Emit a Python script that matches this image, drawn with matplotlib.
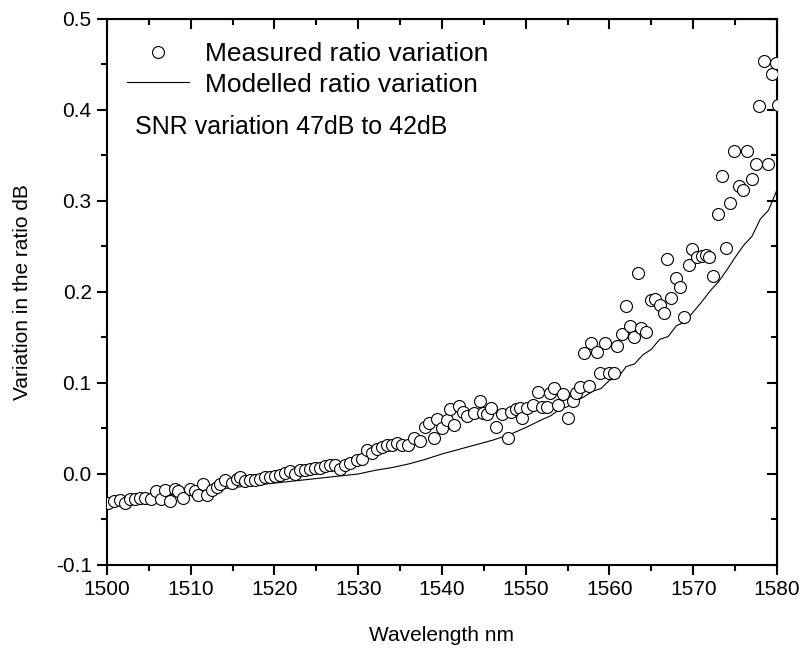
import matplotlib
matplotlib.use("Agg")
import matplotlib.pyplot as plt
from matplotlib.ticker import MultipleLocator, FormatStrFormatter

plt.rcParams['font.family'] = ['Liberation Sans', 'DejaVu Sans']
plt.rcParams['axes.unicode_minus'] = False

# measured ratio variation (wavelength nm, dB)
meas_wl = [1500.1, 1500.8, 1501.6, 1502.1, 1502.7, 1503.3, 1503.9, 1504.5, 1505.3, 1505.9,
           1506.4, 1506.9, 1507.5, 1508.1, 1508.5, 1509.1, 1509.9, 1510.5, 1510.9, 1511.5,
           1512.0, 1512.5, 1513.1, 1513.5, 1514.1, 1514.9, 1515.5, 1515.9, 1516.5, 1517.1,
           1517.7, 1518.3, 1518.9, 1519.5, 1520.1, 1520.7, 1521.3, 1521.9, 1522.4, 1523.0,
           1523.6, 1524.2, 1524.8, 1525.4, 1526.0, 1526.6, 1527.2, 1527.8, 1528.4, 1529.0,
           1529.8, 1530.4, 1531.0, 1531.6, 1532.2, 1532.8, 1533.4, 1534.0, 1534.6, 1535.2,
           1536.0, 1536.6, 1537.4, 1538.0, 1538.4, 1539.0, 1539.4, 1540.0, 1540.6, 1541.0,
           1541.4, 1542.0, 1542.5, 1543.0, 1543.8, 1544.5, 1544.9, 1545.4, 1545.9, 1546.5,
           1547.2, 1547.9, 1548.3, 1548.8, 1549.3, 1549.5, 1550.1, 1550.9, 1551.5, 1551.9,
           1552.5, 1552.9, 1553.4, 1553.9, 1554.5, 1555.0, 1555.6, 1556.0, 1556.5, 1557.0,
           1557.5, 1557.8, 1558.5, 1558.9, 1559.5, 1560.0, 1560.5, 1560.9, 1561.5, 1562.0,
           1562.5, 1562.9, 1563.4, 1563.8, 1564.4, 1565.0, 1565.4, 1566.0, 1566.5, 1566.9,
           1567.4, 1567.9, 1568.4, 1568.9, 1569.5, 1569.9, 1570.4, 1571.0, 1571.5, 1571.9,
           1572.4, 1573.0, 1573.4, 1573.9, 1574.4, 1574.9, 1575.5, 1575.9, 1576.4, 1577.0,
           1577.5, 1577.9, 1578.5, 1578.9, 1579.4, 1579.9, 1580.1]
meas_val = [-0.032, -0.030, -0.029, -0.032, -0.027, -0.028, -0.026, -0.026, -0.028, -0.019,
            -0.028, -0.018, -0.030, -0.016, -0.019, -0.026, -0.017, -0.019, -0.023, -0.011,
            -0.023, -0.018, -0.014, -0.011, -0.007, -0.010, -0.006, -0.003, -0.008, -0.007,
            -0.007, -0.005, -0.003, -0.003, -0.002, -0.001, 0.001, 0.003, 0.000, 0.004,
            0.004, 0.006, 0.007, 0.007, 0.009, 0.010, 0.010, 0.006, 0.010, 0.012,
            0.015, 0.017, 0.026, 0.023, 0.028, 0.030, 0.032, 0.032, 0.034, 0.032,
            0.032, 0.039, 0.036, 0.052, 0.056, 0.040, 0.060, 0.050, 0.059, 0.071,
            0.054, 0.075, 0.068, 0.064, 0.067, 0.080, 0.067, 0.066, 0.073, 0.052,
            0.066, 0.039, 0.068, 0.071, 0.073, 0.062, 0.073, 0.076, 0.090, 0.074,
            0.074, 0.089, 0.094, 0.076, 0.088, 0.062, 0.080, 0.089, 0.096, 0.133,
            0.097, 0.144, 0.134, 0.111, 0.144, 0.111, 0.111, 0.141, 0.154, 0.185,
            0.163, 0.150, 0.221, 0.160, 0.156, 0.191, 0.192, 0.186, 0.177, 0.236,
            0.193, 0.215, 0.206, 0.173, 0.230, 0.247, 0.238, 0.239, 0.241, 0.238,
            0.218, 0.286, 0.327, 0.248, 0.298, 0.355, 0.317, 0.312, 0.355, 0.324,
            0.341, 0.404, 0.454, 0.341, 0.440, 0.452, 0.405]

# modelled ratio variation
model_wl = [1500, 1502, 1504, 1506, 1508, 1510, 1512, 1514, 1516, 1518,
            1520, 1522, 1524, 1526, 1528, 1530, 1532, 1534, 1536, 1538,
            1540, 1542, 1544, 1546, 1548, 1550, 1552, 1553, 1554, 1555,
            1556, 1557, 1558, 1559, 1560, 1561, 1562, 1563, 1564, 1565,
            1566, 1567, 1568, 1569, 1570, 1571, 1572, 1573, 1574, 1575,
            1576, 1577, 1578, 1579, 1580]
model_val = [-0.030, -0.028, -0.026, -0.024, -0.022, -0.020, -0.018, -0.016, -0.014, -0.012,
             -0.010, -0.008, -0.006, -0.004, -0.002, 0.000, 0.004, 0.007, 0.011, 0.016,
             0.022, 0.027, 0.032, 0.037, 0.043, 0.051, 0.060, 0.064, 0.071, 0.074,
             0.080, 0.085, 0.091, 0.094, 0.103, 0.106, 0.118, 0.121, 0.131, 0.137,
             0.148, 0.151, 0.163, 0.167, 0.178, 0.189, 0.201, 0.211, 0.224, 0.238,
             0.251, 0.261, 0.280, 0.290, 0.312]

fig = plt.figure(figsize=(8.08, 6.54), dpi=100)
ax = fig.add_axes([0.1324, 0.1361, 0.8292, 0.8349])

ax.plot(meas_wl, meas_val, 'o', mfc='white', mec='black', ms=8.6, mew=0.8,
        label='Measured ratio variation', clip_on=True, zorder=3)
ax.plot(model_wl, model_val, '-', color='black', lw=0.8,
        label='Modelled ratio variation', zorder=2)

ax.set_xlim(1500, 1580)
ax.set_ylim(-0.1, 0.5)
ax.xaxis.set_major_locator(MultipleLocator(10))
ax.xaxis.set_minor_locator(MultipleLocator(5))
ax.yaxis.set_major_locator(MultipleLocator(0.1))
ax.yaxis.set_minor_locator(MultipleLocator(0.05))
ax.yaxis.set_major_formatter(FormatStrFormatter('%.1f'))

for s in ax.spines.values():
    s.set_linewidth(1.5)
ax.tick_params(which='major', direction='out', length=7, width=1.5, labelsize=15, pad=4)
ax.tick_params(which='minor', direction='out', length=4, width=1.5)

top = ax.secondary_xaxis('top')
top.xaxis.set_major_locator(MultipleLocator(10))
top.xaxis.set_minor_locator(MultipleLocator(5))
top.tick_params(which='major', direction='in', length=7, width=1.5, labeltop=False)
top.tick_params(which='minor', direction='in', length=4, width=1.5)
right = ax.secondary_yaxis('right')
right.yaxis.set_major_locator(MultipleLocator(0.1))
right.yaxis.set_minor_locator(MultipleLocator(0.05))
right.tick_params(which='major', direction='in', length=7, width=1.5, labelright=False)
right.tick_params(which='minor', direction='in', length=4, width=1.5)

ax.set_xlabel('Wavelength nm', fontsize=15, labelpad=19)
ax.set_ylabel('Variation in the ratio dB', fontsize=15, labelpad=17)

ax.legend(loc='upper left', bbox_to_anchor=(0.03, 0.957), frameon=False, fontsize=19,
          handlelength=2.35, handletextpad=0.6, labelspacing=0.23, borderpad=0,
          borderaxespad=0)
ax.text(0.042, 0.802, 'SNR variation 47dB to 42dB', transform=ax.transAxes,
        fontsize=18, va='center', ha='left')

fig.savefig('out.png', dpi=100)
